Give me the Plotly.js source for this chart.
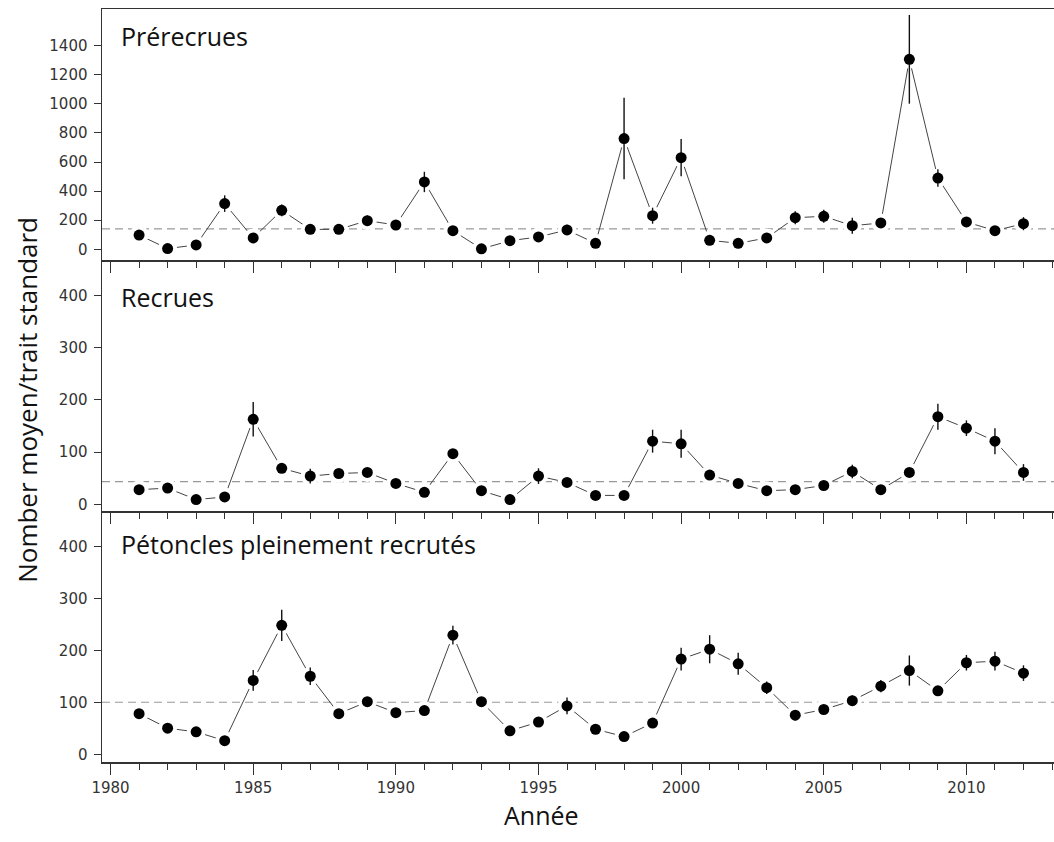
<!DOCTYPE html>
<html>
<head>
<meta charset="utf-8">
<script src="https://cdn.plot.ly/plotly-3.0.1.min.js"></script>
<style>
  html, body { margin: 0; padding: 0; background: #fff; }
  #chart { width: 1054px; height: 842px; }
</style>
</head>
<body>
<div id="chart"></div>
<script>
// Survey years
const years = [1981, 1982, 1983, 1984, 1985, 1986, 1987, 1988, 1989, 1990,
               1991, 1992, 1993, 1994, 1995, 1996, 1997, 1998, 1999, 2000,
               2001, 2002, 2003, 2004, 2005, 2006, 2007, 2008, 2009, 2010,
               2011, 2012];

// Prérecrues: mean number per standard tow and error
const prerecrues    = [98, 5, 30, 314, 78, 268, 137, 137, 197, 167,
                       463, 128, 3, 59, 85, 133, 41, 761, 231, 630,
                       62, 41, 78, 217, 227, 162, 181, 1306, 490, 188,
                       128, 176];
const prerecruesErr = [30, 15, 25, 57, 20, 40, 20, 20, 35, 25,
                       70, 25, 10, 20, 25, 35, 15, 280, 55, 128,
                       20, 15, 20, 45, 45, 55, 25, 305, 60, 30,
                       20, 45];

// Recrues
const recrues    = [28, 31, 9, 14, 163, 69, 54, 59, 61, 40,
                    23, 97, 26, 9, 54, 42, 17, 17, 121, 116,
                    56, 40, 26, 28, 36, 63, 28, 61, 168, 146,
                    121, 61];
const recruesErr = [7, 7, 6, 8, 33, 8, 14, 8, 8, 7,
                    6, 8, 6, 6, 15, 8, 6, 6, 22, 27,
                    8, 7, 6, 7, 7, 13, 6, 8, 25, 15,
                    25, 16];

// Pétoncles pleinement recrutés
const pleinement    = [79, 51, 44, 27, 143, 249, 151, 79, 102, 81,
                       85, 230, 102, 46, 63, 94, 49, 35, 61, 184,
                       203, 175, 129, 76, 87, 104, 132, 162, 123, 177,
                       180, 157];
const pleinementErr = [8, 8, 8, 7, 20, 30, 17, 8, 9, 8,
                       9, 18, 8, 7, 8, 16, 7, 7, 8, 22,
                       27, 21, 12, 10, 8, 10, 12, 29, 9, 15,
                       18, 15];

// Long-term reference levels (dashed lines)
const refPrerecrues = 140;
const refRecrues    = 43.6;
const refPleinement = 101;

// Panel labels, axis titles and tick values
const panelLabels = ["Prérecrues", "Recrues", "Pétoncles pleinement recrutés"];
const yTitle = "Nomber moyen/trait standard";
const xTitle = "Année";
const topTicks = [0, 200, 400, 600, 800, 1000, 1200, 1400];
const lowTicks = [0, 100, 200, 300, 400];

const axisColor = "#333";
const textFont = "Open Sans, Noto Sans, sans-serif";
const tickFont = {family: "DejaVu Sans, sans-serif", size: 15, color: "#333"};

function seriesTraces(y, err, xa, ya) {
  return [
    // connecting line, broken around each point by a white halo
    {x: years, y: y, xaxis: xa, yaxis: ya, type: "scatter", mode: "lines+markers",
     line: {color: "#444", width: 1},
     marker: {color: "#fff", size: 19, line: {width: 0}},
     hoverinfo: "skip"},
    // points with error bars
    {x: years, y: y, xaxis: xa, yaxis: ya, type: "scatter", mode: "markers",
     marker: {color: "#000", size: 11, line: {width: 0}},
     error_y: {type: "data", array: err, visible: true, color: "#111", thickness: 1.4, width: 0}}
  ];
}

const data = [].concat(
  seriesTraces(prerecrues, prerecruesErr, "x3", "y"),
  seriesTraces(recrues, recruesErr, "x2", "y2"),
  seriesTraces(pleinement, pleinementErr, "x", "y3")
);

const xBase = {
  range: [1979.70, 2013.07],
  tick0: 1980, dtick: 5,
  ticks: "outside", ticklen: 11, tickwidth: 1, tickcolor: axisColor,
  showline: true, linecolor: axisColor, linewidth: 1.5,
  showgrid: false, zeroline: false,
  tickfont: tickFont,
  minor: {tick0: 1980, dtick: 1, ticks: "outside", ticklen: 6, tickwidth: 1,
          tickcolor: axisColor, showgrid: false}
};

function yBase(domain, range, vals) {
  return {
    domain: domain, range: range,
    tickmode: "array", tickvals: vals, ticktext: vals.map(String),
    ticks: "outside", ticklen: 7, tickwidth: 1, tickcolor: axisColor,
    showline: true, linecolor: axisColor, linewidth: 1.5,
    showgrid: false, zeroline: false,
    tickfont: tickFont, ticklabelstandoff: 3
  };
}

function refLine(yref, v) {
  return {type: "line", xref: "paper", x0: 0, x1: 1, yref: yref, y0: v, y1: v,
          layer: "below", line: {color: "#999", width: 1.2, dash: "8px,5px"}};
}

function panelLabel(text, yPaper) {
  return {text: text, xref: "paper", yref: "paper", x: 0.018, y: yPaper,
          xanchor: "left", yanchor: "middle", showarrow: false,
          font: {family: textFont, size: 25, color: "#111"}};
}

const layout = {
  width: 1054, height: 842,
  margin: {l: 102, r: 0, t: 9, b: 80, pad: 0},
  paper_bgcolor: "#fff", plot_bgcolor: "#fff",
  showlegend: false,
  xaxis: Object.assign({}, xBase, {anchor: "y3"}),
  xaxis2: Object.assign({}, xBase, {anchor: "y2", matches: "x", showticklabels: false}),
  xaxis3: Object.assign({}, xBase, {anchor: "y", matches: "x", showticklabels: false, mirror: true}),
  yaxis: yBase([2 / 3, 1], [-73.6, 1652], topTicks),
  yaxis2: yBase([1 / 3, 2 / 3], [-12.9, 468.5], lowTicks),
  yaxis3: yBase([0, 1 / 3], [-14, 469], lowTicks),
  shapes: [
    refLine("y", refPrerecrues),
    refLine("y2", refRecrues),
    refLine("y3", refPleinement)
  ],
  annotations: [
    panelLabel(panelLabels[0], 0.9635),
    panelLabel(panelLabels[1], 0.6169),
    panelLabel(panelLabels[2], 0.2895),
    {text: yTitle, xref: "paper", yref: "paper", x: -0.079, y: 0.4807,
     xanchor: "center", yanchor: "middle", textangle: -90, showarrow: false,
     font: {family: textFont, size: 26, color: "#111"}},
    {text: xTitle, xref: "paper", yref: "paper", x: 0.462, y: -0.0704,
     xanchor: "center", yanchor: "middle", showarrow: false,
     font: {family: textFont, size: 25, color: "#111"}}
  ]
};

Plotly.newPlot("chart", data, layout, {displayModeBar: false, staticPlot: true});
</script>
</body>
</html>
